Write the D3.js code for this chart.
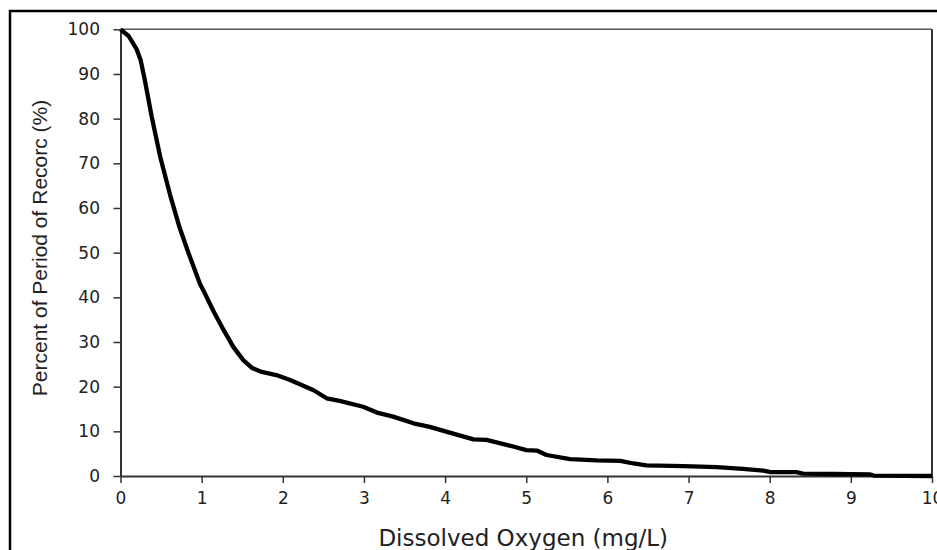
<!DOCTYPE html>
<html>
<head>
<meta charset="utf-8">
<script src="https://cdn.jsdelivr.net/npm/d3@7"></script>
<style>
  html, body { margin: 0; padding: 0; background: #fff; }
  svg { display: block; }
</style>
</head>
<body>
<svg id="chart" width="937" height="550"></svg>
<script>
// Data
const doValues = [0, 0.1, 0.2, 0.25, 0.3, 0.385, 0.49, 0.61, 0.73, 0.84, 0.98, 1.02, 1.14, 1.27, 1.39, 1.51, 1.62, 1.74, 1.92, 2.09, 2.38, 2.54, 2.70, 2.99, 3.16, 3.36, 3.61, 3.81, 4.10, 4.35, 4.51, 4.84, 5.0, 5.13, 5.25, 5.54, 5.87, 6.16, 6.32, 6.48, 6.94, 7.35, 7.67, 7.92, 8.0, 8.33, 8.41, 8.78, 9.24, 9.28, 10];
const percentValues = [100, 98.5, 95.5, 93, 88.6, 80.4, 71.4, 63, 55.5, 49.8, 43, 41.6, 37.1, 32.7, 28.9, 26, 24.2, 23.3, 22.6, 21.5, 19.2, 17.4, 16.8, 15.5, 14.2, 13.3, 11.8, 11.0, 9.5, 8.2, 8.1, 6.6, 5.8, 5.7, 4.7, 3.8, 3.5, 3.4, 2.8, 2.4, 2.2, 2.0, 1.6, 1.2, 0.9, 0.85, 0.55, 0.45, 0.35, 0.1, 0];
const xTicks = [0, 1, 2, 3, 4, 5, 6, 7, 8, 9, 10];
const yTicks = [0, 10, 20, 30, 40, 50, 60, 70, 80, 90, 100];
const xTitle = "Dissolved Oxygen (mg/L)";
const yTitle = "Percent of Period of Recorc (%)";

(function () {
const svg = d3.select("#chart");
const pLeft = 120.5, pRight = 932, pTop = 29.3, pBottom = 476;

const x = d3.scaleLinear().domain([0, 10]).range([pLeft, pRight]);
const y = d3.scaleLinear().domain([0, 100]).range([pBottom, pTop]);

// outer border
svg.append("rect")
  .attr("x", 10).attr("y", 11)
  .attr("width", 1000).attr("height", 700)
  .attr("fill", "none").attr("stroke", "#000").attr("stroke-width", 2.5);

// plot frame (top & right)
svg.append("line").attr("x1", pLeft).attr("x2", pRight).attr("y1", pTop).attr("y2", pTop)
  .attr("stroke", "#555").attr("stroke-width", 1.5);
svg.append("line").attr("x1", pRight).attr("x2", pRight).attr("y1", pTop).attr("y2", pBottom)
  .attr("stroke", "#333").attr("stroke-width", 2);

// axes
const xAxis = svg.append("g")
  .attr("transform", `translate(0,${pBottom})`)
  .call(d3.axisBottom(x).tickValues(xTicks).tickFormat(d3.format("d")).tickSize(7).tickSizeOuter(0).tickPadding(9));
const yAxis = svg.append("g")
  .attr("transform", `translate(${pLeft},0)`)
  .call(d3.axisLeft(y).tickValues(yTicks).tickFormat(d3.format("d")).tickSize(7).tickSizeOuter(0).tickPadding(13.5));

[xAxis, yAxis].forEach(g => {
  g.select(".domain").attr("stroke", "#333").attr("stroke-width", 2);
  g.selectAll(".tick line").attr("stroke", "#333").attr("stroke-width", 1.5);
  g.selectAll(".tick text")
    .attr("fill", "#222")
    .style("font-family", "'DejaVu Sans', sans-serif")
    .style("font-size", "17px");
});

// curve
const pts = doValues.map((d, i) => [d, percentValues[i]]);
svg.append("path")
  .datum(pts)
  .attr("fill", "none")
  .attr("stroke", "#000")
  .attr("stroke-width", 4.3)
  .attr("stroke-linejoin", "round")
  .attr("d", d3.line().x(d => x(d[0])).y(d => y(d[1])));

// titles
svg.append("text")
  .attr("x", (pLeft + pRight) / 2 - 3).attr("y", 546)
  .attr("text-anchor", "middle")
  .attr("fill", "#222")
  .style("font-family", "'DejaVu Sans', sans-serif")
  .style("font-size", "23px")
  .text(xTitle);

svg.append("text")
  .attr("transform", `translate(47,248) rotate(-90)`)
  .attr("text-anchor", "middle")
  .attr("fill", "#222")
  .style("font-family", "'Liberation Sans', Arial, sans-serif")
  .style("font-size", "21px")
  .text(yTitle);
})();
</script>
</body>
</html>
